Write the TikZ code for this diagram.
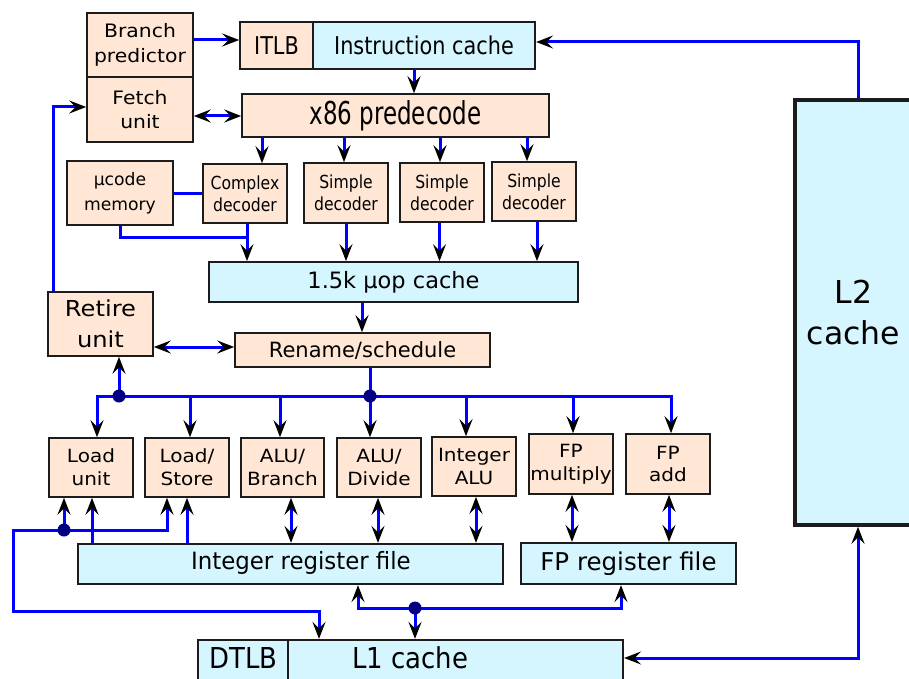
\documentclass[tikz,border=0pt]{standalone}
\usepackage{fontspec}
\setmainfont{DejaVu Sans}
\newfontfamily\fwide{DejaVu Sans}[FakeStretch=1.1]
\newfontfamily\fdec{DejaVu Sans}[FakeStretch=0.87]
\newfontfamily\fic{DejaVu Sans}[FakeStretch=0.85]
\newfontfamily\fpre{DejaVu Sans}[FakeStretch=0.73]
\newfontfamily\frf{DejaVu Sans}[FakeStretch=0.96]
\newfontfamily\fl{DejaVu Sans}[FakeStretch=0.9]
\usetikzlibrary{arrows.meta}
\definecolor{peach}{HTML}{FFE6D5}
\definecolor{lcyan}{HTML}{D5F6FF}
\definecolor{bord}{HTML}{1C1C1C}
\definecolor{dotc}{HTML}{000080}
\newcommand{\mybox}[7]{\node[#1, minimum width={(#4)-(#2)}, minimum height={(#5)-(#3)}] (#6) at ({((#2)+(#4))/2},{((#3)+(#5))/2}) {#7};}
\newcommand{\fntUnit}{\fwide\fontsize{18.2}{22.7}\selectfont}
\newcommand{\fntBp}{\fwide\fontsize{18.5}{24.6}\selectfont}
\newcommand{\fntDec}{\fdec\fontsize{18}{21.7}\selectfont}
\newcommand{\fntUc}{\fontsize{17.2}{25}\selectfont}
\newcommand{\fntIC}{\fic\fontsize{24.5}{28}\selectfont}
\newcommand{\fntPre}{\fpre\fontsize{31.5}{36}\selectfont}
\newcommand{\fntUop}{\fontsize{22.5}{26}\selectfont}
\newcommand{\fntRs}{\fontsize{21}{25}\selectfont}
\newcommand{\fntRet}{\fwide\fontsize{22}{30.7}\selectfont}
\newcommand{\fntRF}{\frf\fontsize{23.8}{28}\selectfont}
\newcommand{\fntFRF}{\fontsize{24.5}{28}\selectfont}
\newcommand{\fntLone}{\fl\fontsize{28.8}{32}\selectfont}
\newcommand{\fntLtwo}{\fontsize{31.5}{41.5}\selectfont}
\tikzset{
  pbox/.style={draw=bord, line width=1.6pt, fill=peach, inner sep=0pt, align=center, text=black},
  cbox/.style={draw=bord, line width=2.2pt, fill=lcyan, inner sep=0pt, align=center, text=black},
  wire/.style={draw=blue, line width=3pt},
  blk/.tip={Stealth[length=17pt,width=13pt,inset=6.5pt,color=black]},
  conn/.style={wire, arrows={-blk}},
  dconn/.style={wire, arrows={blk-blk}},
  junc/.style={circle, fill=dotc, minimum size=13pt, inner sep=0pt},
  lbl/.style={inner sep=0pt, text=black}
}
\begin{document}
\begin{tikzpicture}[x=1pt,y=-1pt]
\useasboundingbox (0,0) rectangle (909,679);
\begin{scope}
\clip (0,0) rectangle (909,679);
% front end
\mybox{pbox,font=\fntBp}{87}{13}{193}{77}{bp}{Branch\\predictor}
\mybox{pbox,font=\fntBp}{87}{77}{193}{142}{fu}{Fetch\\unit}
\mybox{pbox,font=\fntIC}{240}{22}{313}{69}{itlb}{ITLB}
\mybox{cbox,font=\fntIC}{313}{22}{535}{69}{ic}{Instruction cache}
\mybox{pbox,font=\fntPre}{242}{94}{549}{137}{x86}{x86 predecode}
\mybox{pbox,font=\fntUc}{67}{161}{173}{225}{ucode}{µcode\\memory}
\mybox{pbox,font=\fntDec}{203}{164}{287}{223}{cd}{Complex\\decoder}
\mybox{pbox,font=\fntDec}{304}{163}{388}{223}{sd1}{Simple\\decoder}
\mybox{pbox,font=\fntDec}{400}{163}{484}{222}{sd2}{Simple\\decoder}
\mybox{pbox,font=\fntDec}{492}{162}{576}{221}{sd3}{Simple\\decoder}
\mybox{cbox,line width=1.8pt,font=\fntUop}{209}{262}{578}{302}{uop}{1.5k µop cache}
\mybox{pbox,font=\fntRet}{48}{292}{153}{356}{ru}{Retire\\unit}
\mybox{pbox,font=\fntRs}{235}{333}{490}{367}{rs}{Rename/schedule}
% execution units
\mybox{pbox,font=\fntUnit}{49}{438}{133}{497}{lu}{Load\\unit}
\mybox{pbox,font=\fntUnit}{145}{438}{229}{497}{ls}{Load/\\Store}
\mybox{pbox,font=\fntUnit}{241}{438}{324}{497}{ab}{ALU/\\Branch}
\mybox{pbox,font=\fntUnit}{337}{438}{421}{497}{ad}{ALU/\\Divide}
\mybox{pbox,font=\fntUnit}{432}{437}{516}{496}{ia}{Integer\\ALU}
\mybox{pbox,font=\fntUnit}{529}{434}{613}{494}{fm}{FP\\multiply}
\mybox{pbox,font=\fntUnit}{626}{434}{710}{494}{fa}{FP\\add}
% register files and caches
\mybox{cbox}{78}{544}{503}{584}{irf}{}
\node[lbl,font=\fntRF] (irft) at (301,563) {Integer register file};
\mybox{cbox,font=\fntFRF}{521}{543}{736}{584}{fprf}{FP register file}
\mybox{cbox}{198}{640}{288}{686}{dtlb}{}
\node[lbl,font=\fntLone] (dtlbt) at (243.5,657.5) {DTLB};
\mybox{cbox}{288}{640}{623}{686}{l1}{}
\node[lbl,font=\fntLone] (l1t) at (410,657.5) {L1 cache};
\mybox{cbox,line width=3.5pt,font=\fntLtwo}{795}{100}{912}{525}{l2}{L2\\cache}
% connectors: front end
\draw[conn] (bp.east |- 0,40) -- (itlb.west |- 0,40);
\draw[conn] (l2.north -| 858,0) |- (ic.east |- 0,42);
\draw[conn] (ic.south -| 414,0) -- (x86.north -| 414,0);
\draw[dconn] (fu.east |- 0,116) -- (x86.west |- 0,116);
\draw[conn] (ru.north -| 53,0) |- (fu.west |- 0,107);
\foreach \n/\x in {cd/262, sd1/344, sd2/440, sd3/527}
  \draw[conn] (x86.south -| \x,0) -- (\n.north -| \x,0);
\draw[wire] (ucode.east |- 0,193) -- (cd.west |- 0,193);
\coordinate (j1) at (247,237);
\draw[wire] (ucode.south -| 120,0) |- (j1);
\foreach \n/\x in {cd/247, sd1/346, sd2/439.5, sd3/537}
  \draw[conn] (\n.south -| \x,0) -- (uop.north -| \x,0);
\draw[conn] (uop.south -| 362,0) -- (rs.north -| 362,0);
\draw[dconn] (ru.east |- 0,347) -- (rs.west |- 0,347);
% issue bus
\coordinate (d1) at (119,396);
\coordinate (d2) at (370,396);
\coordinate (bls) at (190,396);
\coordinate (bab) at (280,396);
\coordinate (bia) at (466,396);
\coordinate (bfm) at (573,396);
\draw[wire] (rs.south -| d2) -- (d2);
\draw[wire] (d1) -- (d2);
\draw[conn] (d1) -- (ru.south -| d1);
\draw[conn] (d1) -| (lu.north -| 97,0);
\draw[conn] (bls) -- (ls.north -| bls);
\draw[conn] (bab) -- (ab.north -| bab);
\draw[conn] (d2) -- (ad.north -| d2);
\draw[conn] (bia) -- (ia.north -| bia);
\draw[conn] (bfm) -- (fm.north -| bfm);
\draw[conn] (d2) -| (fa.north -| 671,0);
% units to register files
\foreach \n/\x in {ab/291, ad/378, ia/476}
  \draw[dconn] (\n.south -| \x,0) -- (irf.north -| \x,0);
\foreach \n/\x in {fm/572, fa/669}
  \draw[dconn] (\n.south -| \x,0) -- (fprf.north -| \x,0);
\draw[conn] (irf.north -| 92,0) -- (lu.south -| 92,0);
\draw[conn] (irf.north -| 187,0) -- (ls.south -| 187,0);
% memory paths
\coordinate (d3) at (64,530);
\draw[conn] (d3) -- (lu.south -| d3);
\draw[conn] (d3) -| (ls.south -| 167,0);
\draw[conn] (d3) -| (13,611) -| (l1.north -| 319,0);
\coordinate (d4) at (415,608);
\draw[conn] (d4) -| (irf.south -| 358,0);
\draw[conn] (d4) -| (fprf.south -| 621,0);
\draw[conn] (d4) -- (l1.north -| d4);
\draw[dconn] (l2.south -| 858,0) |- (l1.east |- 0,658);
% junction dots
\node[junc] (d1dot) at (d1) {};
\node[junc] (d2dot) at (d2) {};
\node[junc] (d3dot) at (d3) {};
\node[junc] (d4dot) at (d4) {};
\end{scope}
\end{tikzpicture}
\end{document}
